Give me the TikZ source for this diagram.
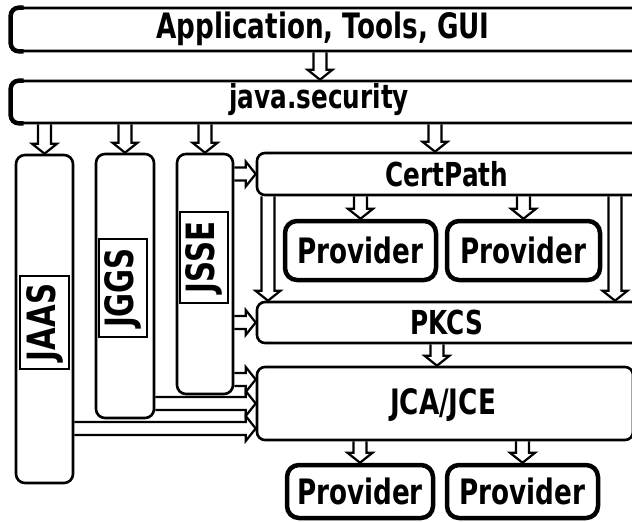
\documentclass[tikz,border=0pt]{standalone}
\usepackage{fontspec}
\setmainfont{DejaVu Sans}[FakeStretch=0.75]
\usetikzlibrary{calc}

\tikzset{
  layer/.style={draw, line width=2.6pt, rounded corners=8pt, fill=white, inner sep=0pt},
  heavyleft/.style={line width=4.5pt, rounded corners=8pt},
  column/.style={draw, line width=2.6pt, rounded corners=9pt, fill=white, inner sep=0pt},
  provider/.style={draw, line width=4.5pt, rounded corners=12pt, fill=white, inner sep=0pt,
                   font=\fontsize{35}{38}\selectfont\bfseries},
  tag/.style={draw, line width=1.6pt, fill=white, inner sep=0pt, rotate=90,
              font=\fontsize{39}{42}\selectfont\bfseries},
  caption/.style={inner sep=0pt, font=\fontsize{33}{36}\selectfont\bfseries},
  fat/.style={draw, line width=2.2pt, line join=miter}
}

% hollow block arrows: shaft 13pt wide, head 25pt wide and 10pt long
\newcommand\fatdown[2]{%
  \draw[fat] ($(#1)+(-6.5,0)$) -- ($(#2)+(-6.5,-10)$) -- ($(#2)+(-12.5,-10)$) -- (#2)
    -- ($(#2)+(12.5,-10)$) -- ($(#2)+(6.5,-10)$) -- ($(#1)+(6.5,0)$);}
\newcommand\fatright[2]{%
  \draw[fat] ($(#1)+(0,-6.5)$) -- ($(#2)+(-10,-6.5)$) -- ($(#2)+(-10,-12.5)$) -- (#2)
    -- ($(#2)+(-10,12.5)$) -- ($(#2)+(-10,6.5)$) -- ($(#1)+(0,6.5)$);}

\begin{document}
\begin{tikzpicture}[x=1pt,y=-1pt]
  \useasboundingbox (0,0) rectangle (632,522);
  \clip (0,0) rectangle (632,522);

  % horizontal layers
  \node[layer, minimum width=639pt, minimum height=43pt] (app) at (330.5,29.5) {};
  \draw[heavyleft] ($(app.north west)+(14,1)$) -- ($(app.north west)+(1,1)$) -- ($(app.south west)+(1,-1)$) -- ($(app.south west)+(14,-1)$);
  \node[caption, font=\fontsize{35}{38}\selectfont\bfseries] (apptext) at (323,29) {Application, Tools, GUI};
  \node[layer, minimum width=639pt, minimum height=42pt] (jsec) at (330.5,102) {};
  \draw[heavyleft] ($(jsec.north west)+(14,1)$) -- ($(jsec.north west)+(1,1)$) -- ($(jsec.south west)+(1,-1)$) -- ($(jsec.south west)+(14,-1)$);
  \node[caption] (jsectext) at (319,100) {java.security};

  \node[layer, minimum width=393pt, minimum height=42pt] (cert) at (453.5,174) {};
  \node[caption] (certtext) at (447,174) {CertPath};
  \node[layer, minimum width=393pt, minimum height=41pt] (pkcs) at (453.5,322.5) {};
  \node[caption] (pkcstext) at (447,322) {PKCS};
  \node[layer, minimum width=376pt, minimum height=73pt] (jca) at (445,403.5) {};
  \node[caption, font=\fontsize{35}{38}\selectfont\bfseries] (jcatext) at (443,405) {JCA/JCE};

  % providers
  \node[provider, minimum width=151pt, minimum height=59pt] (provA) at (360.5,250.5) {Provider};
  \node[provider, minimum width=153pt, minimum height=59pt] (provB) at (523.5,250.5) {Provider};
  \node[provider, minimum width=146pt, minimum height=53pt] (provC) at (360,491.5) {Provider};
  \node[provider, minimum width=151pt, minimum height=53pt] (provD) at (522.5,491.5) {Provider};

  % vertical APIs
  \node[column, minimum width=57pt, minimum height=328pt] (jaas) at (44.5,319) {};
  \node[column, minimum width=58pt, minimum height=264pt] (jggs) at (125,286) {};
  \node[column, minimum width=56pt, minimum height=240pt] (jsse) at (205,274) {};
  \node[tag, minimum width=93pt, minimum height=49pt] (jaastag) at (44.5,322.5) {JAAS};
  \node[tag, minimum width=98pt, minimum height=48pt] (jggstag) at (123,288) {JGGS};
  \node[tag, minimum width=91pt, minimum height=48pt] (jssetag) at (204,257.5) {JSSE};

  % helper coordinates for arrow positions
  \coordinate (xApp) at (320,0);
  \coordinate (xCert) at (435,0);
  \coordinate (xLeft) at (268,0);
  \coordinate (xRight) at (615,0);
  \coordinate (xPkcs) at (437,0);
  \coordinate (jcaTop) at ($(jca.west)+(0,-24)$);
  \coordinate (jcaLow) at ($(jca.west)+(0,25)$);

  % downward arrows
  \fatdown{app.south -| xApp}{jsec.north -| xApp}
  \fatdown{jsec.south -| jaas.north}{jaas.north}
  \fatdown{jsec.south -| jggs.north}{jggs.north}
  \fatdown{jsec.south -| jsse.north}{jsse.north}
  \fatdown{jsec.south -| xCert}{cert.north -| xCert}
  \fatdown{cert.south -| provA.north}{provA.north}
  \fatdown{cert.south -| provB.north}{provB.north}
  \fatdown{cert.south -| xLeft}{pkcs.north -| xLeft}
  \fatdown{cert.south -| xRight}{pkcs.north -| xRight}
  \fatdown{pkcs.south -| xPkcs}{jca.north -| xPkcs}
  \fatdown{jca.south -| provC.north}{provC.north}
  \fatdown{jca.south -| provD.north}{provD.north}

  % rightward arrows
  \fatright{jsse.east |- cert.west}{cert.west}
  \fatright{jsse.east |- pkcs.west}{pkcs.west}
  \fatright{jsse.east |- jcaTop}{jcaTop}
  \fatright{jggs.east |- jca.west}{jca.west}
  \fatright{jaas.east |- jcaLow}{jcaLow}
\end{tikzpicture}
\end{document}
